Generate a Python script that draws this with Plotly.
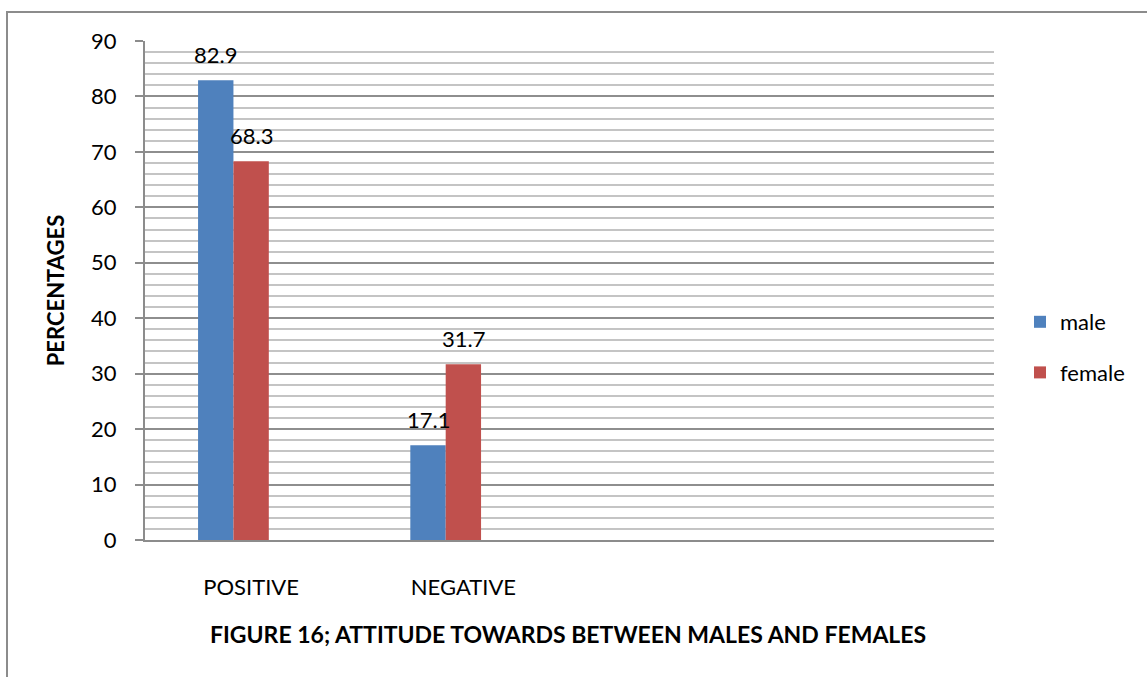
import plotly.graph_objects as go

# Attitude by gender (percent)
categories = ["POSITIVE", "NEGATIVE"]
male = [82.9, 17.1]
female = [68.3, 31.7]
y_ticks = [0, 10, 20, 30, 40, 50, 60, 70, 80, 90]

W, H = 1147, 677
L, R, T, B = 145, 153, 41, 137
plot_w, plot_h = W - L - R, H - T - B

FONT = "Lato, Carlito, Calibri, sans-serif"
BLUE = "#4f81bd"
RED = "#c0504d"

n_slots = 4          # category slots on the axis (two are left empty)
bar_w = 1 / 6        # three bar slots inside half a category
group_start = -0.25

pos = list(range(len(categories)))
off_male = group_start
off_female = group_start + bar_w

fig = go.Figure()
fig.add_trace(go.Bar(
    x=pos, y=male, name="male", width=bar_w, offset=off_male,
    marker=dict(color=BLUE, line=dict(width=0)), legendgroup="m",
))
fig.add_trace(go.Bar(
    x=pos, y=female, name="female", width=bar_w, offset=off_female,
    marker=dict(color=RED, line=dict(width=0)), legendgroup="f",
))

annotations = []
for series, off in ((male, off_male), (female, off_female)):
    for i, v in enumerate(series):
        annotations.append(dict(
            x=pos[i] + off + bar_w / 2, y=v, xref="x", yref="y",
            text=f"{v:.1f}", showarrow=False, yanchor="middle", yshift=26,
            font=dict(family=FONT, size=22, color="#000"),
        ))

def px_x(p):
    return (p - L) / plot_w

def px_y(p):
    return 1 - (p - T) / plot_h

annotations.append(dict(
    x=px_x(568), y=px_y(634), xref="paper", yref="paper",
    text="<b>FIGURE 16; ATTITUDE TOWARDS BETWEEN MALES AND FEMALES</b>",
    showarrow=False, xanchor="center", yanchor="middle",
    font=dict(family=FONT, size=23, color="#000"),
))

fig.update_layout(
    width=W, height=H,
    margin=dict(l=L, r=R, t=T, b=B, autoexpand=False),
    paper_bgcolor="white", plot_bgcolor="white",
    barmode="overlay",
    font=dict(family=FONT, size=22, color="#000"),
    showlegend=True,
    legend=dict(
        x=px_x(1020), y=px_y(347.5), xanchor="left", yanchor="middle",
        font=dict(family=FONT, size=22, color="#000"),
        tracegroupgap=19, bgcolor="rgba(0,0,0,0)",
    ),
    annotations=annotations,
    shapes=[dict(
        type="rect", xref="paper", yref="paper",
        x0=px_x(7), x1=px_x(W + 20), y0=px_y(H + 20), y1=px_y(12),
        line=dict(color="#8c8c8c", width=2), fillcolor="rgba(0,0,0,0)",
        layer="below",
    )],
    xaxis=dict(
        range=[-0.5, n_slots - 0.5],
        tickmode="array", tickvals=pos, ticktext=categories,
        showgrid=False, zeroline=False,
        showline=True, linecolor="#8c8c8c", linewidth=2,
        ticks="", ticklabelstandoff=27,
        tickfont=dict(family=FONT, size=22, color="#000"),
        fixedrange=True,
    ),
    yaxis=dict(
        range=[0, 90], tickmode="array", tickvals=y_ticks,
        showgrid=True, gridcolor="#8e8e8e", gridwidth=1.5,
        minor=dict(dtick=2, showgrid=True, gridcolor="#c4c4c4", gridwidth=1.5),
        zeroline=False,
        showline=True, linecolor="#8c8c8c", linewidth=2,
        ticks="outside", ticklen=8, tickcolor="#8c8c8c", tickwidth=1.5,
        ticklabelstandoff=14,
        tickfont=dict(family=FONT, size=22, color="#000"),
        title=dict(text="<b>PERCENTAGES</b>", standoff=20,
                   font=dict(family=FONT, size=22, color="#000")),
        fixedrange=True,
    ),
)

fig.write_html("out.html")
